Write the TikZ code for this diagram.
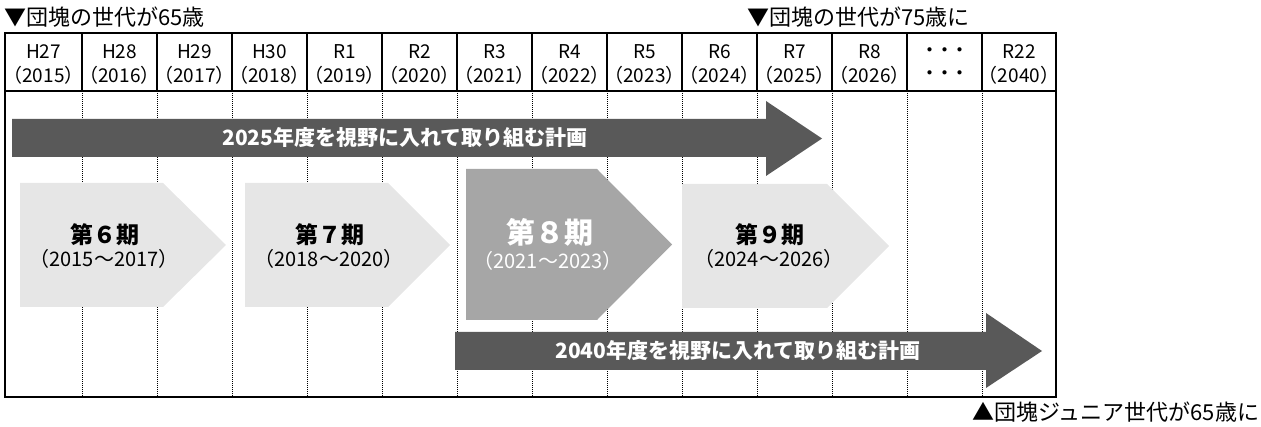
\documentclass[tikz,border=0pt]{standalone}
\usepackage{fontspec}
\setmainfont{Noto Sans CJK JP}
\definecolor{arrowgray}{HTML}{595959}
\definecolor{chevlight}{HTML}{E6E6E6}
\definecolor{chevdark}{HTML}{A6A6A6}
\begin{document}
\begin{tikzpicture}[x=1pt,y=-1pt,
  frame/.style={line width=2.5pt},
  sepline/.style={line width=1.3pt},
  gridline/.style={line width=0.9pt, dash pattern=on 1.2pt off 0.8pt},
  hdr/.style={font=\fontsize{19}{19}\selectfont, inner sep=0pt},
  dotrow/.style={font=\bfseries\fontsize{15}{15}\selectfont, inner sep=0pt},
  lbl/.style={font=\fontsize{22}{22}\selectfont, inner sep=0pt, anchor=west},
  plan/.style={font=\bfseries\fontsize{21}{21}\selectfont, text=white, inner sep=0pt},
  phase/.style={font=\bfseries\fontsize{23}{23}\selectfont, inner sep=0pt},
  bigphase/.style={font=\bfseries\fontsize{29}{29}\selectfont, text=white, inner sep=0pt},
  years/.style={font=\fontsize{20}{20}\selectfont, inner sep=0pt},
  ]
\useasboundingbox (0,0) rectangle (1261,427);

% top / bottom labels
\node[lbl] (l65) at (4,17) {▼団塊の世代が65歳};
\node[lbl] (l75) at (747,17) {▼団塊の世代が75歳に};
\node[lbl] (lj65) at (972,412) {▲団塊ジュニア世代が65歳に};

% grid lines
\foreach \x in {82,157,...,982} {
  \draw[gridline] (\x,91) -- (\x,397);
  \draw[sepline] (\x,33) -- (\x,91);
}

% header texts
\foreach \era/\yr [count=\i from 0] in {H27/2015,H28/2016,H29/2017,H30/2018,R1/2019,R2/2020,R3/2021,R4/2022,R5/2023,R6/2024,R7/2025,R8/2026} {
  \pgfmathsetmacro{\cx}{(\i==0) ? 43.5 : (119.5+75*(\i-1))}
  \node[hdr] (era\i) at (\cx,52) {\era};
  \node[hdr] (yr\i) at (\cx,75) {（\yr）};
}
\node[dotrow] (dotsA) at (944.5,52) {・・・};
\node[dotrow] (dotsB) at (944.5,75) {・・・};
\node[hdr] (era13) at (1019,52) {R22};
\node[hdr] (yr13) at (1019,75) {（2040）};

% 2025 plan arrow
\fill[arrowgray] (12,119) -- (766,119) -- (766,101) -- (822,138.5) -- (766,176) -- (766,157) -- (12,157) -- cycle;
\node[plan] (plan2025) at (405,138) {2025年度を視野に入れて取り組む計画};

% 2040 plan arrow
\fill[arrowgray] (455,332) -- (986,332) -- (986,313) -- (1042,351) -- (986,388) -- (986,370) -- (455,370) -- cycle;
\node[plan] (plan2040) at (738,351) {2040年度を視野に入れて取り組む計画};

% phase chevrons
\fill[chevlight] (20,183) -- (163,183) -- (226,245) -- (163,307) -- (20,307) -- cycle;
\fill[chevlight] (245,183) -- (388,183) -- (450,245) -- (388,307) -- (245,307) -- cycle;
\fill[chevdark] (466,169) -- (597,169) -- (672,244.5) -- (597,320) -- (466,320) -- cycle;
\fill[chevlight] (682,184) -- (827,184) -- (889,246) -- (827,308) -- (682,308) -- cycle;

\node[phase] (p6) at (105,235) {第６期};
\node[years] (y6) at (104,259) {（2015～2017）};
\node[phase] (p7) at (330,235) {第７期};
\node[years] (y7) at (329,259) {（2018～2020）};
\node[bigphase] (p8) at (550,232) {第８期};
\node[years,text=white] (y8) at (548,261) {（2021～2023）};
\node[phase] (p9) at (770,235) {第９期};
\node[years] (y9) at (769,259) {（2024～2026）};

% frame
\draw[frame] (5,33) rectangle (1056,397);
\draw[line width=2pt] (5,91) -- (1056,91);
\end{tikzpicture}
\end{document}
